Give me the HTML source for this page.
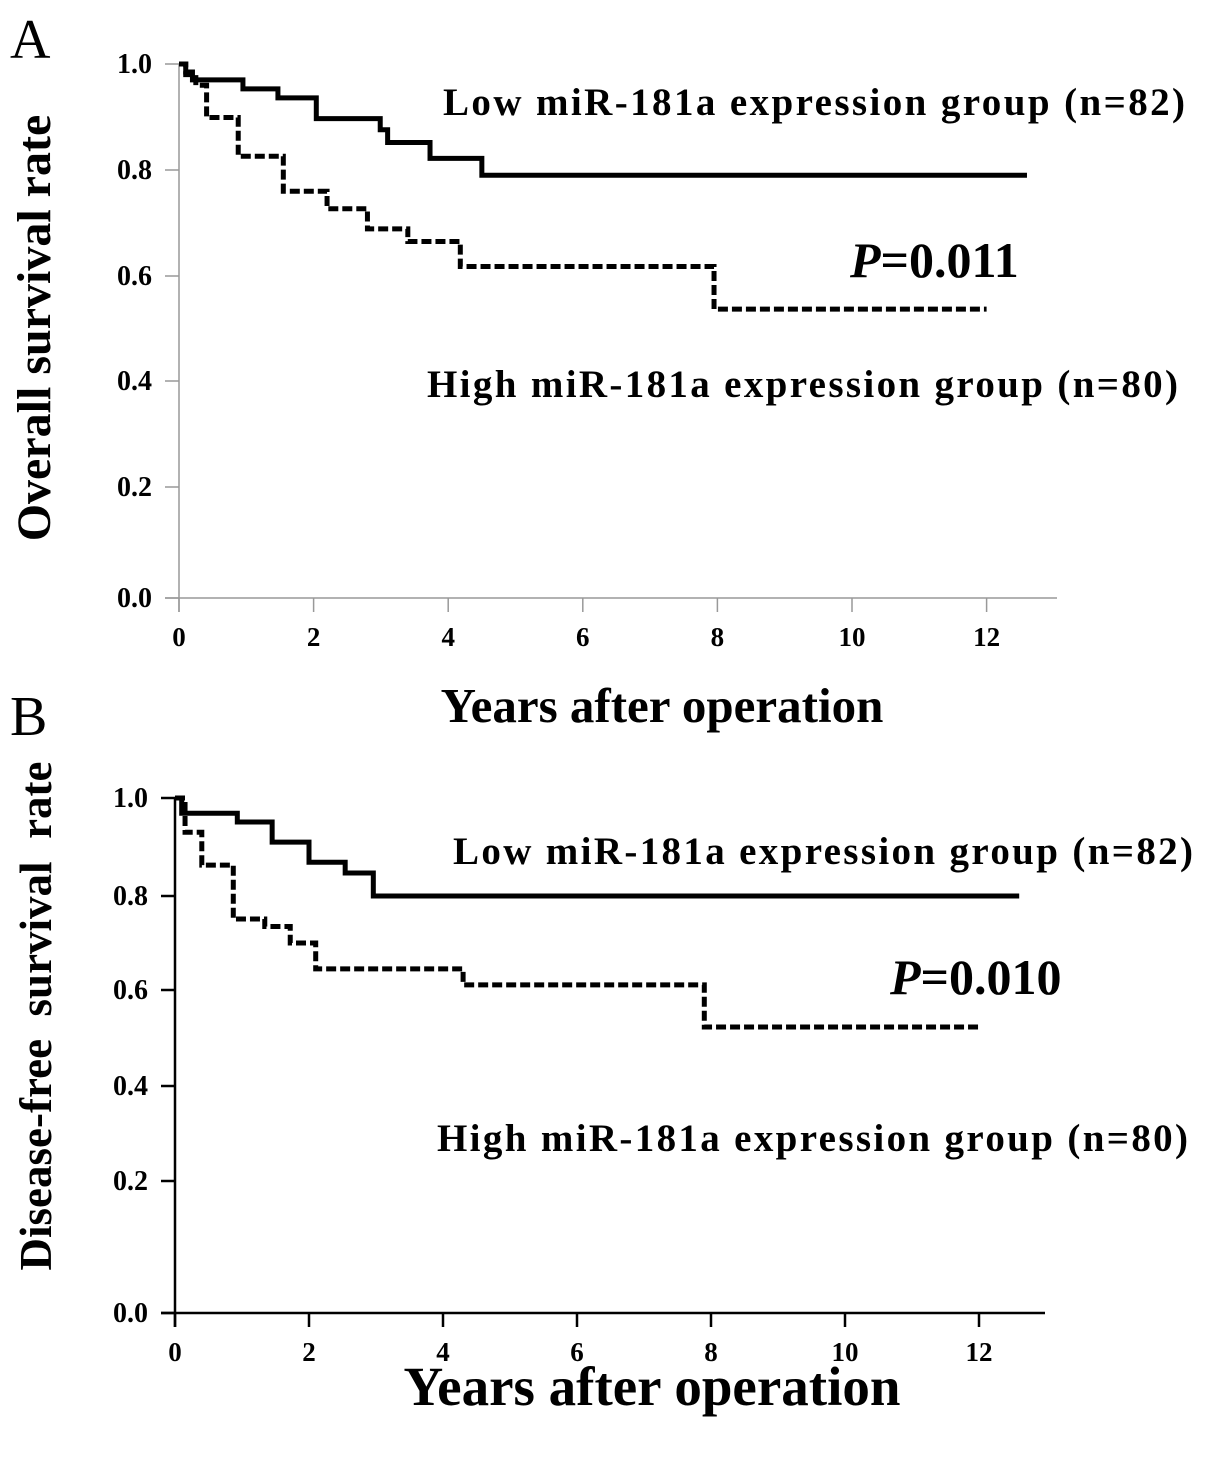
<!DOCTYPE html>
<html><head><meta charset="utf-8"><style>
html,body{margin:0;padding:0;background:#fff}
svg{display:block}
text{font-family:"Liberation Serif",serif;font-weight:bold;fill:#000}
</style></head><body>
<svg id="c" width="1205" height="1457" viewBox="0 0 1205 1457"></svg>
<script>
const xTicks=[0,2,4,6,8,10,12];
const yTicks=[0.0,0.2,0.4,0.6,0.8,1.0];
const yTickLabels=["0.0","0.2","0.4","0.6","0.8","1.0"];
// Panel A (overall survival)
const aLowT=[0,0.1,0.2,0.95,1.47,2.04,2.99,3.1,3.73,4.5,12.6];
const aLowS=[1.0,0.985,0.97,0.953,0.936,0.897,0.876,0.852,0.822,0.79,0.79];
const aHighT=[0,0.1,0.25,0.41,0.88,1.55,2.2,2.8,3.4,4.18,7.95,12.0];
const aHighS=[1.0,0.98,0.96,0.899,0.826,0.76,0.727,0.689,0.665,0.618,0.537,0.537];
// Panel B (disease-free survival)
const bLowT=[0,0.1,0.93,1.45,2.0,2.54,2.96,12.6];
const bLowS=[1.0,0.969,0.951,0.91,0.869,0.847,0.8,0.8];
const bHighT=[0,0.15,0.4,0.87,1.34,1.72,2.1,4.3,7.9,12.0];
const bHighS=[1.0,0.93,0.863,0.751,0.735,0.70,0.645,0.611,0.523,0.523];

const svg=document.getElementById('c');
const NS='http://www.w3.org/2000/svg';
function mk(tag,attrs,parent){const e=document.createElementNS(NS,tag);for(const k in attrs)e.setAttribute(k,attrs[k]);(parent||svg).appendChild(e);return e;}

function panel(cfg){
  const g=mk('g',{});
  
  
  const xs=t=>cfg.x0+t*cfg.xu;
  const ys=v=>{
    const p=cfg.yPix;
    for(let i=0;i<yTicks.length-1;i++){
      if(v<=yTicks[i+1]){return p[i]+(v-yTicks[i])/(yTicks[i+1]-yTicks[i])*(p[i+1]-p[i]);}
    }
    return p[p.length-1];
  };
  const ax=cfg.axisColor, aw=cfg.axisW;
  const yaxis=mk('line',{x1:xs(0),y1:ys(1),x2:xs(0),y2:ys(0)+14,stroke:ax,'stroke-width':aw},g);
  
  
  const xaxis=mk('line',{x1:xs(0)-14,y1:ys(0),x2:cfg.xEnd,y2:ys(0),stroke:ax,'stroke-width':aw},g);
  
  
  yTicks.forEach((v,i)=>{
    const l=mk('line',{x1:xs(0)-14,y1:ys(v),x2:xs(0),y2:ys(v),stroke:ax,'stroke-width':aw},g);
    
    
    const t=mk('text',{x:cfg.x0-27,y:ys(v)+9,'text-anchor':'end','font-size':28},g);
    t.textContent=yTickLabels[i];
    
    
  });
  xTicks.forEach(v=>{
    const l=mk('line',{x1:xs(v),y1:ys(0),x2:xs(v),y2:ys(0)+14,stroke:ax,'stroke-width':aw},g);
    
    
    const t=mk('text',{x:xs(v),y:ys(0)+48,'text-anchor':'middle','font-size':27},g);
    t.textContent=String(v);
    
    
  });
  function step(T,S,dash,name){
    let d='M'+xs(T[0])+','+ys(S[0]);
    for(let i=1;i<T.length;i++){d+=' H'+xs(T[i])+' V'+ys(S[i]);}
    const p=mk('path',{d:d,fill:'none',stroke:'#000','stroke-width':5,'stroke-linejoin':'miter'},g);
    if(dash)p.setAttribute('stroke-dasharray',dash);
    
    
  }
  step(cfg.lowT,cfg.lowS,null,'low-expression-curve');
  step(cfg.highT,cfg.highS,'10 4','high-expression-curve');
}

panel({name:'panel-a',x0:179,xu:67.3,yPix:[598,487,381,276,170,64],xEnd:1057,axisColor:'#999',axisW:1.5,
  lowT:aLowT,lowS:aLowS,highT:aHighT,highS:aHighS});
panel({name:'panel-b',x0:175,xu:67,yPix:[1313,1181,1086,990,896,798],xEnd:1045,axisColor:'#000',axisW:2.5,
  lowT:bLowT,lowS:bLowS,highT:bHighT,highS:bHighS});
</script>
<div style="position:absolute;left:0;top:0;width:1205px;height:1457px;pointer-events:none">
<svg width="1205" height="1457" viewBox="0 0 1205 1457">
  <text x="10" y="58" font-size="56" style="font-weight:normal">A</text>
  <text x="10" y="735" font-size="56" style="font-weight:normal">B</text>
  <text transform="translate(50,328) rotate(-90)" text-anchor="middle" font-size="48">Overall survival rate</text>
  <text transform="translate(51,1016) rotate(-90)" text-anchor="middle" font-size="45" xml:space="preserve">Disease-free  survival  rate</text>
  <text x="662" y="722" text-anchor="middle" font-size="49">Years after operation</text>
  <text x="652" y="1405" text-anchor="middle" font-size="55">Years after operation</text>
  <text x="443" y="115" font-size="39" textLength="742">Low miR-181a expression group (n=82)</text>
  <text x="850" y="277" font-size="50"><tspan font-style="italic">P</tspan>=0.011</text>
  <text x="427" y="397" font-size="39" textLength="751">High miR-181a expression group (n=80)</text>
  <text x="453" y="864" font-size="39" textLength="740">Low miR-181a expression group (n=82)</text>
  <text x="890" y="994" font-size="50"><tspan font-style="italic">P</tspan>=0.010</text>
  <text x="437" y="1151" font-size="39" textLength="751">High miR-181a expression group (n=80)</text>
</svg>
</div>
</body></html>
